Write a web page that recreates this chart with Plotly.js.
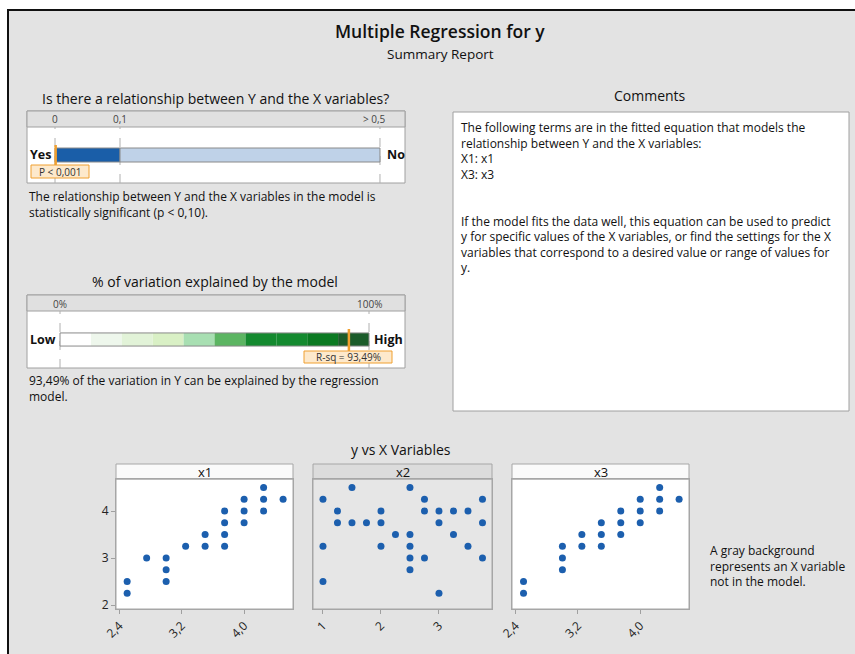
<!DOCTYPE html>
<html>
<head>
<meta charset="utf-8">
<script src="https://cdn.plot.ly/plotly-3.0.1.min.js"></script>
<style>html,body{margin:0;padding:0;background:#fff;}#chart{width:855px;height:654px;}</style>
</head>
<body>
<div id="chart"></div>
<script>
// ---------- data ----------
const pTickVals = [0, 0.1, 0.5];
const pTickText = ['0', '0,1', '> 0,5'];
const pSegStart = [0, 0.1];
const pSegEnd = [0.1, 0.5];
const pSegColors = ['#1a5ea8', '#bfd2e8'];
const pValue = 0.001;
const pLabel = 'P < 0,001';

const rsqTickVals = [0, 100];
const rsqTickText = ['0%', '100%'];
const rsqBandStart = [0, 10, 20, 30, 40, 50, 60, 70, 80, 90];
const rsqBandEnd = [10, 20, 30, 40, 50, 60, 70, 80, 90, 100];
const rsqBandColors = ['#ffffff', '#eef7ec', '#e2f3d8', '#d9f0c5', '#a8dfb2', '#5cb562', '#148a2f', '#148a2f', '#0b7a22', '#1b5c2a'];
const rsqValue = 93.49;
const rsqLabel = 'R-sq = 93,49%';

const x1Vals = [2.5, 2.5, 2.75, 3.0, 3.0, 3.0, 3.25, 3.5, 3.5, 3.75, 3.75, 3.75, 3.75, 4.0, 4.0, 4.0, 4.25, 4.25, 4.25, 4.5];
const y1Vals = [2.5, 2.25, 3.0, 3.0, 2.75, 2.5, 3.25, 3.5, 3.25, 4.0, 3.75, 3.5, 3.25, 4.25, 4.0, 3.75, 4.5, 4.25, 4.0, 4.25];

const x2Vals = [1.0, 1.0, 1.0, 1.25, 1.25, 1.5, 1.5, 1.75, 2.0, 2.0, 2.0, 2.25, 2.5, 2.5, 2.5, 2.5, 2.5, 2.75, 2.75, 2.75, 3.0, 3.0, 3.0, 3.25, 3.25, 3.5, 3.5, 3.75, 3.75, 3.75];
const y2Vals = [4.25, 3.25, 2.5, 4.0, 3.75, 4.5, 3.75, 3.75, 4.0, 3.75, 3.25, 3.5, 4.5, 3.5, 3.25, 3.0, 2.75, 4.25, 4.0, 3.0, 4.0, 3.75, 2.25, 4.0, 3.5, 4.0, 3.25, 4.25, 3.75, 3.0];

const x3Vals = [2.5, 2.5, 3.0, 3.0, 3.0, 3.25, 3.25, 3.5, 3.5, 3.5, 3.75, 3.75, 3.75, 4.0, 4.0, 4.0, 4.25, 4.25, 4.25, 4.5];
const y3Vals = [2.5, 2.25, 3.25, 3.0, 2.75, 3.5, 3.25, 3.75, 3.5, 3.25, 4.0, 3.75, 3.5, 4.25, 4.0, 3.75, 4.5, 4.25, 4.0, 4.25];

const xTickVals13 = [2.4, 3.2, 4.0];
const xTickText13 = ['2,4', '3,2', '4,0'];
const xTickVals2 = [1, 2, 3];
const xTickText2 = ['1', '2', '3'];
const yTickVals = [2, 3, 4];
const yTickText = ['2', '3', '4'];
const panelNames = ['x1', 'x2', 'x3'];

// ---------- helpers ----------
const W = 855, H = 654;
const fx = x => x / W;
const fy = y => 1 - y / H;
const FONT = 'Open Sans, Noto Sans, sans-serif';
const TXT = '#111111';
const DOT = '#1c5fae';
const ORANGE = '#f0a030';

const traces = [];
// p-value bar
traces.push({
  type: 'bar', orientation: 'h', xaxis: 'x4', yaxis: 'y4',
  y: pSegStart.map(() => 0), base: pSegStart,
  x: pSegEnd.map((e, i) => e - pSegStart[i]),
  width: 0.5,
  marker: {color: pSegColors, line: {color: '#8a8a8a', width: 1}},
  hoverinfo: 'skip', showlegend: false
});
// R-sq bar
traces.push({
  type: 'bar', orientation: 'h', xaxis: 'x5', yaxis: 'y5',
  y: rsqBandStart.map(() => 0), base: rsqBandStart,
  x: rsqBandEnd.map((e, i) => e - rsqBandStart[i]),
  width: 0.46,
  marker: {color: rsqBandColors, line: {width: 0}},
  hoverinfo: 'skip', showlegend: false
});
// scatter panels
const sc = (x, y, xa, ya) => ({
  type: 'scatter', mode: 'markers', x: x, y: y, xaxis: xa, yaxis: ya,
  marker: {color: DOT, size: 7}, hoverinfo: 'skip', showlegend: false, cliponaxis: false
});
traces.push(sc(x1Vals, y1Vals, 'x', 'y'));
traces.push(sc(x2Vals, y2Vals, 'x2', 'y2'));
traces.push(sc(x3Vals, y3Vals, 'x3', 'y3'));

const yRange = [1.915, 4.681];
const axBase = {
  showgrid: false, zeroline: false, showline: true, mirror: true,
  linecolor: '#a6a6a6', linewidth: 1, ticks: 'outside', ticklen: 4,
  tickcolor: '#a0a0a0', tickfont: {family: FONT, size: 12, color: '#222'}, fixedrange: true
};
const scY0 = 479, scY1 = 609;
const layout = {
  width: W, height: H,
  margin: {l: 0, r: 0, t: 0, b: 0},
  paper_bgcolor: '#e3e3e3', plot_bgcolor: 'rgba(0,0,0,0)',
  barmode: 'overlay', showlegend: false,
  font: {family: FONT, color: TXT},
  xaxis: Object.assign({}, axBase, {domain: [fx(116), fx(293)], range: [2.357, 4.627], anchor: 'y',
    tickvals: xTickVals13, ticktext: xTickText13, tickangle: -45}),
  yaxis: Object.assign({}, axBase, {domain: [fy(scY1), fy(scY0)], range: yRange, anchor: 'x',
    tickvals: yTickVals, ticktext: yTickText}),
  xaxis2: Object.assign({}, axBase, {domain: [fx(313), fx(492)], range: [0.828, 3.914], anchor: 'y2',
    tickvals: xTickVals2, ticktext: xTickText2, tickangle: -45}),
  yaxis2: Object.assign({}, axBase, {domain: [fy(scY1), fy(scY0)], range: yRange, anchor: 'x2',
    tickvals: yTickVals, showticklabels: false, ticks: ''}),
  xaxis3: Object.assign({}, axBase, {domain: [fx(512), fx(689)], range: [2.352, 4.627], anchor: 'y3',
    tickvals: xTickVals13, ticktext: xTickText13, tickangle: -45}),
  yaxis3: Object.assign({}, axBase, {domain: [fy(scY1), fy(scY0)], range: yRange, anchor: 'x3',
    tickvals: yTickVals, showticklabels: false, ticks: ''}),
  // p-value bar axis: 0 at x=55, 0.5 at x=380
  xaxis4: {domain: [fx(27), fx(405)], range: [-0.0431, 0.5385], visible: false, anchor: 'y4', fixedrange: true},
  yaxis4: {domain: [fy(183), fy(127)], range: [-1, 1], visible: false, anchor: 'x4', fixedrange: true},
  // R-sq bar axis: 0 at x=60, 100 at x=369
  xaxis5: {domain: [fx(27), fx(405)], range: [-10.68, 111.65], visible: false, anchor: 'y5', fixedrange: true},
  yaxis5: {domain: [fy(368), fy(311)], range: [-1, 1], visible: false, anchor: 'x5', fixedrange: true},
  shapes: [], annotations: []
};

const S = layout.shapes, A = layout.annotations;
const rectPx = (x0, y0, x1, y1, fill, line, layer) => S.push({
  type: 'rect', xref: 'paper', yref: 'paper', x0: fx(x0), x1: fx(x1), y0: fy(y1), y1: fy(y0),
  fillcolor: fill, line: line ? {color: line, width: 1} : {width: 0}, layer: layer || 'below'
});
const textPx = (x, y, text, size, opts) => A.push(Object.assign({
  xref: 'paper', yref: 'paper', x: fx(x), y: fy(y), text: text, showarrow: false,
  font: {family: FONT, size: size, color: TXT}, xanchor: 'center', yanchor: 'middle'
}, opts || {}));

// frame
rectPx(0, 0, 855, 9, '#ffffff', null);
rectPx(0, 0, 7, 654, '#ffffff', null);
S.push({type: 'line', xref: 'paper', yref: 'paper', x0: fx(7), x1: 1, y0: fy(10), y1: fy(10), line: {color: '#111', width: 2}});
S.push({type: 'line', xref: 'paper', yref: 'paper', x0: fx(8), x1: fx(8), y0: fy(9), y1: 0, line: {color: '#111', width: 2}});

// titles
textPx(440, 31, 'Multiple Regression for y', 17.5, {font: {family: FONT, size: 17.5, color: TXT, weight: 600}});
textPx(440, 54, 'Summary Report', 13.5);

// ---- panel 1 ----
textPx(215, 98, 'Is there a relationship between Y and the X variables?', 14);
rectPx(27, 111, 405, 183, '#ffffff', '#a0a0a0');
rectPx(27, 111, 405, 127, '#e0e0e0', '#a0a0a0');
pTickVals.forEach((v, i) => {
  S.push({type: 'line', xref: 'x4', yref: 'paper', x0: v, x1: v, y0: fy(183), y1: fy(127),
    line: {color: '#b0b0b0', width: 1, dash: 'dash'}, layer: 'below'});
  A.push({xref: 'x4', yref: 'paper', x: v, y: fy(119), text: pTickText[i], showarrow: false,
    font: {family: FONT, size: 10, color: '#444'}, xanchor: i === pTickVals.length - 1 ? 'right' : 'center', yanchor: 'middle',
    xshift: i === pTickVals.length - 1 ? 8 : 0});
});
textPx(53, 155, '<b>Yes</b>', 12.5, {xanchor: 'right'});
textPx(385, 155, '<b>No</b>', 12.5, {xanchor: 'left'});
S.push({type: 'line', xref: 'x4', yref: 'paper', x0: pValue, x1: pValue, y0: fy(166), y1: fy(145),
  line: {color: ORANGE, width: 2.5}, layer: 'above'});
rectPx(31, 165, 89, 178, '#fde9cc', ORANGE, 'above');
textPx(60, 171.5, pLabel, 10, {font: {family: FONT, size: 10, color: '#333'}});
textPx(27, 204, 'The relationship between Y and the X variables in the model is<br>statistically significant (p &lt; 0,10).', 12,
  {xanchor: 'left', align: 'left'});

// ---- panel 2 ----
textPx(215, 281, '% of variation explained by the model', 14);
rectPx(27, 295, 405, 368, '#ffffff', '#a0a0a0');
rectPx(27, 295, 405, 311, '#e0e0e0', '#a0a0a0');
rsqTickVals.forEach((v, i) => {
  S.push({type: 'line', xref: 'x5', yref: 'paper', x0: v, x1: v, y0: fy(368), y1: fy(311),
    line: {color: '#b0b0b0', width: 1, dash: 'dash'}, layer: 'below'});
  A.push({xref: 'x5', yref: 'paper', x: v, y: fy(303.5), text: rsqTickText[i], showarrow: false,
    font: {family: FONT, size: 10, color: '#444'}, xanchor: 'center', yanchor: 'middle'});
});
S.push({type: 'rect', xref: 'x5', yref: 'y5', x0: 0, x1: 100, y0: -0.23, y1: 0.23,
  line: {color: '#8a8a8a', width: 1}, fillcolor: 'rgba(0,0,0,0)', layer: 'above'});
textPx(58, 339.5, '<b>Low</b>', 12.5, {xanchor: 'right'});
textPx(372, 339.5, '<b>High</b>', 12.5, {xanchor: 'left'});
S.push({type: 'line', xref: 'x5', yref: 'paper', x0: rsqValue, x1: rsqValue, y0: fy(352), y1: fy(329),
  line: {color: ORANGE, width: 2.5}, layer: 'above'});
rectPx(304, 351, 392, 363, '#fde9cc', ORANGE, 'above');
textPx(348, 357, rsqLabel, 10, {font: {family: FONT, size: 10, color: '#333'}});
textPx(27, 388, '93,49% of the variation in Y can be explained by the regression<br>model.', 12,
  {xanchor: 'left', align: 'left'});

// ---- comments ----
textPx(650, 95, 'Comments', 14);
rectPx(453, 112, 849, 411, '#ffffff', '#a0a0a0');
textPx(459, 117, 'The following terms are in the fitted equation that models the<br>relationship between Y and the X variables:<br>X1: x1<br>X3: x3<br><br><br>If the model fits the data well, this equation can be used to predict<br>y for specific values of the X variables, or find the settings for the X<br>variables that correspond to a desired value or range of values for<br>y.', 12,
  {xanchor: 'left', yanchor: 'top', align: 'left'});

// ---- scatter panels ----
textPx(401, 449, 'y vs X Variables', 14);
const panelX = [[116, 293], [313, 492], [512, 689]];
const panelBg = ['#ffffff', '#e6e6e6', '#ffffff'];
const headBg = ['#fafafa', '#dcdcdc', '#fafafa'];
panelX.forEach((p, i) => {
  rectPx(p[0], scY0, p[1], scY1, panelBg[i], '#a6a6a6');
  rectPx(p[0], 464, p[1], 479, headBg[i], '#a6a6a6');
  textPx((p[0] + p[1]) / 2, 471.5, panelNames[i], 13);
});
textPx(708, 566, 'A gray background<br>represents an X variable<br>not in the model.', 12, {xanchor: 'left', align: 'left'});

Plotly.newPlot('chart', traces, layout, {displayModeBar: false, staticPlot: true});
</script>
</body>
</html>
